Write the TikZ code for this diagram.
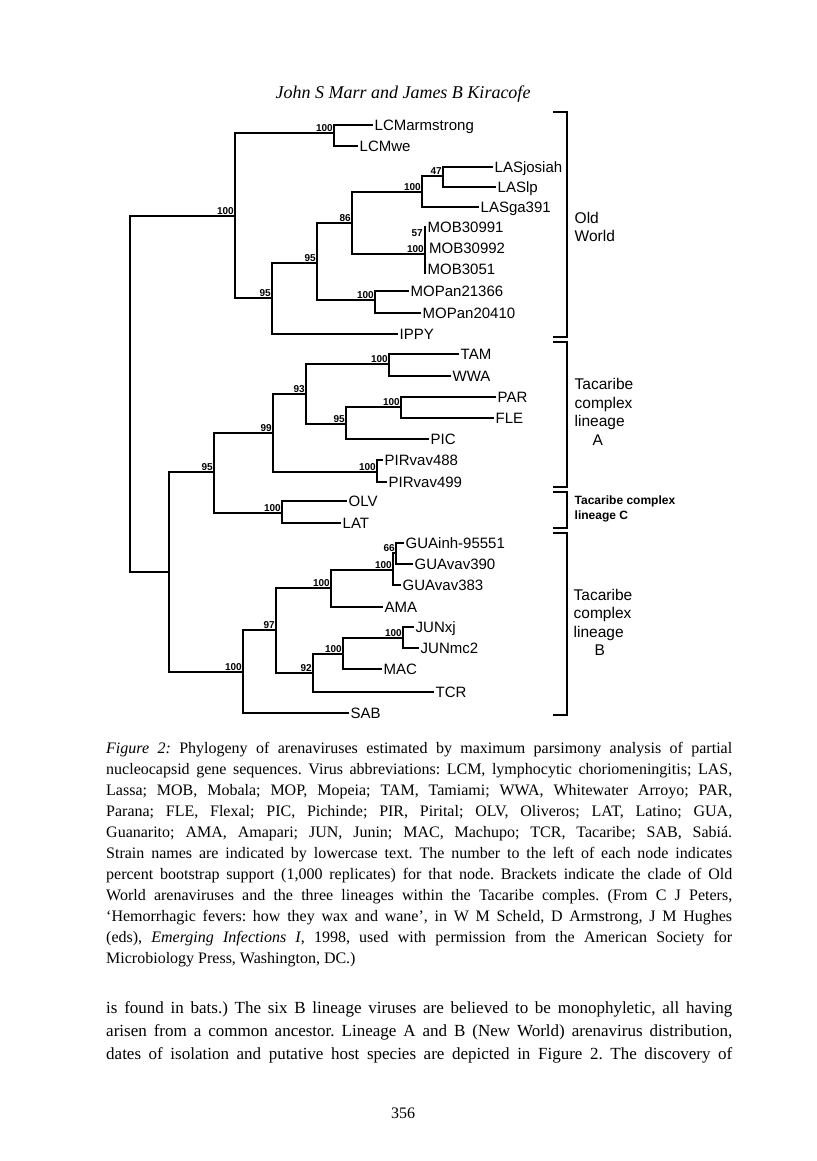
\documentclass[tikz,border=0pt]{standalone}
\usepackage{fontspec}
\setmainfont{Liberation Serif}
\setsansfont{Liberation Sans}
\frenchspacing
\begin{document}
\begin{tikzpicture}[x=1pt,y=-1pt,
  edgeline/.style={line width=1.8pt, line cap=rect, line join=miter},
  brk/.style={line width=2pt, line join=miter},
  leafnode/.style={anchor=west, inner xsep=2.5pt, inner ysep=0pt, font=\sffamily\fontsize{15}{15}\selectfont, text height=10.6pt, text depth=0pt},
  bsv/.style={anchor=south east, inner sep=0pt, xshift=-1pt, yshift=1pt, font=\sffamily\bfseries\fontsize{10}{10}\selectfont},
  grplabel/.style={anchor=north west, inner sep=0pt, align=left, font=\sffamily\fontsize{15.5}{18.5}\selectfont},
]
\fill[white] (0,0) rectangle (816,1161);
\useasboundingbox (0,0) rectangle (816,1161);

% header
\node[anchor=base, inner sep=0pt, font=\itshape\fontsize{18}{18}\selectfont] (header) at (403,99) {John S Marr and James B Kiracofe};

% internal nodes
\coordinate (root) at (130,394);
\coordinate (ow) at (235,216);
\coordinate (lcm) at (334,133);
\coordinate (n1) at (272,298);
\coordinate (n2) at (317,263);
\coordinate (n3) at (352,223);
\coordinate (las) at (422,192);
\coordinate (las2) at (443,176);
\coordinate (mob) at (425,254);
\coordinate (mobtop) at (425,226.5);
\coordinate (mobbot) at (425,273);
\coordinate (mop) at (375,300);
\coordinate (nw) at (169,572);
\coordinate (la) at (214,472);
\coordinate (a1) at (273,433);
\coordinate (a2) at (306,394);
\coordinate (tw) at (389,364);
\coordinate (pf) at (346,424);
\coordinate (pf2) at (401,407);
\coordinate (pir) at (377,472);
\coordinate (lc) at (282,513);
\coordinate (lb) at (243,672);
\coordinate (b1) at (276,630);
\coordinate (g) at (331,588);
\coordinate (g1) at (393,570);
\coordinate (g2) at (396,553);
\coordinate (j) at (313,673);
\coordinate (j1) at (343,654);
\coordinate (j2) at (403,638);

% leaves
\node[leafnode] (lcma) at (372,125) {LCMarmstrong};
\node[leafnode] (lcmwe) at (357,146) {LCMwe};
\node[leafnode] (lasj) at (492,167) {LASjosiah};
\node[leafnode] (laslp) at (495,187) {LASlp};
\node[leafnode] (lasga) at (478,207) {LASga391};
\node[leafnode] (mob1) at (425,227) {MOB30991};
\node[leafnode] (mob2) at (426.5,248) {MOB30992};
\node[leafnode] (mob3) at (425,269) {MOB3051};
\node[leafnode] (mopa) at (408,291) {MOPan21366};
\node[leafnode] (mopb) at (420,313) {MOPan20410};
\node[leafnode] (ippy) at (397,334) {IPPY};
\node[leafnode] (tam) at (458,354) {TAM};
\node[leafnode] (wwa) at (450,376) {WWA};
\node[leafnode] (par) at (495,397) {PAR};
\node[leafnode] (fle) at (493,418) {FLE};
\node[leafnode] (pic) at (428,439) {PIC};
\node[leafnode] (pira) at (382,460) {PIRvav488};
\node[leafnode] (pirb) at (386,482) {PIRvav499};
\node[leafnode] (olv) at (346,501) {OLV};
\node[leafnode] (lat) at (340,523) {LAT};
\node[leafnode] (guaa) at (403,543) {GUAinh-95551};
\node[leafnode] (guab) at (412,564) {GUAvav390};
\node[leafnode] (guac) at (400,585) {GUAvav383};
\node[leafnode] (ama) at (382,607) {AMA};
\node[leafnode] (juna) at (413,627) {JUNxj};
\node[leafnode] (junb) at (418,648) {JUNmc2};
\node[leafnode] (mac) at (381,669) {MAC};
\node[leafnode] (tcr) at (433,692) {TCR};
\node[leafnode] (sab) at (348,713) {SAB};

% branches
\draw[edgeline] (root) |- (ow);
\draw[edgeline] (root) |- (nw);
\draw[edgeline] (ow) |- (lcm);
\draw[edgeline] (ow) |- (n1);
\draw[edgeline] (lcm) |- (lcma.west);
\draw[edgeline] (lcm) |- (lcmwe.west);
\draw[edgeline] (n1) |- (n2);
\draw[edgeline] (n1) |- (ippy.west);
\draw[edgeline] (n2) |- (n3);
\draw[edgeline] (n2) |- (mop);
\draw[edgeline] (n3) |- (las);
\draw[edgeline] (n3) |- (mob);
\draw[edgeline] (las) |- (las2);
\draw[edgeline] (las) |- (lasga.west);
\draw[edgeline] (las2) |- (lasj.west);
\draw[edgeline] (las2) |- (laslp.west);
\draw[edgeline] (mobtop) -- (mobbot);
\draw[edgeline] (mop) |- (mopa.west);
\draw[edgeline] (mop) |- (mopb.west);
\draw[edgeline] (nw) |- (la);
\draw[edgeline] (nw) |- (lb);
\draw[edgeline] (la) |- (a1);
\draw[edgeline] (la) |- (lc);
\draw[edgeline] (a1) |- (a2);
\draw[edgeline] (a1) |- (pir);
\draw[edgeline] (a2) |- (tw);
\draw[edgeline] (a2) |- (pf);
\draw[edgeline] (tw) |- (tam.west);
\draw[edgeline] (tw) |- (wwa.west);
\draw[edgeline] (pf) |- (pf2);
\draw[edgeline] (pf) |- (pic.west);
\draw[edgeline] (pf2) |- (par.west);
\draw[edgeline] (pf2) |- (fle.west);
\draw[edgeline] (pir) |- (pira.west);
\draw[edgeline] (pir) |- (pirb.west);
\draw[edgeline] (lc) |- (olv.west);
\draw[edgeline] (lc) |- (lat.west);
\draw[edgeline] (lb) |- (b1);
\draw[edgeline] (lb) |- (sab.west);
\draw[edgeline] (b1) |- (g);
\draw[edgeline] (b1) |- (j);
\draw[edgeline] (g) |- (g1);
\draw[edgeline] (g) |- (ama.west);
\draw[edgeline] (g1) |- (g2);
\draw[edgeline] (g1) |- (guac.west);
\draw[edgeline] (g2) |- (guaa.west);
\draw[edgeline] (g2) |- (guab.west);
\draw[edgeline] (j) |- (j1);
\draw[edgeline] (j) |- (tcr.west);
\draw[edgeline] (j1) |- (j2);
\draw[edgeline] (j1) |- (mac.west);
\draw[edgeline] (j2) |- (juna.west);
\draw[edgeline] (j2) |- (junb.west);

% bootstrap values
\node[bsv] (bow) at (ow) {100};
\node[bsv] (blcm) at (lcm) {100};
\node[bsv] (bn1) at (n1) {95};
\node[bsv] (bn2) at (n2) {95};
\node[bsv] (bn3) at (n3) {86};
\node[bsv] (blas) at (las) {100};
\node[bsv] (blas2) at (las2) {47};
\node[bsv] (bmob) at (mob) {100};
\node[bsv] (bmob57) at (424,238) {57};
\node[bsv] (bmop) at (mop) {100};
\node[bsv] (bla) at (la) {95};
\node[bsv] (ba1) at (a1) {99};
\node[bsv] (ba2) at (a2) {93};
\node[bsv] (btw) at (tw) {100};
\node[bsv] (bpf) at (pf) {95};
\node[bsv] (bpf2) at (pf2) {100};
\node[bsv] (bpir) at (pir) {100};
\node[bsv] (blc) at (lc) {100};
\node[bsv] (blb) at (lb) {100};
\node[bsv] (bb1) at (b1) {97};
\node[bsv] (bg) at (g) {100};
\node[bsv] (bg1) at (g1) {100};
\node[bsv] (bg2) at (g2) {66};
\node[bsv] (bj) at (j) {92};
\node[bsv] (bj1) at (j1) {100};
\node[bsv] (bj2) at (j2) {100};

% brackets
\draw[brk] (553,111.7) -- (567,111.7) -- (567,337) -- (553,337);
\draw[brk] (553,342) -- (567,342) -- (567,486.5) -- (553,486.5);
\draw[brk] (553,492) -- (567,492) -- (567,528) -- (553,528);
\draw[brk] (553,532.5) -- (567,532.5) -- (567,715) -- (553,715);

\node[grplabel] (gow) at (574.5,212) {Old\\World};
\node[grplabel] (ga) at (574.5,378.5) {Tacaribe\\complex\\lineage\\\hspace*{18pt}A};
\node[grplabel, font=\sffamily\bfseries\fontsize{12}{15}\selectfont] (gc) at (574.5,496) {Tacaribe complex\\lineage C};
\node[grplabel] (gb) at (573.5,589) {Tacaribe\\complex\\lineage\\\hspace*{21pt}B};

% caption
\node[anchor=north west, inner sep=0pt, text width=626pt, align=justify, font=\fontsize{16}{21}\selectfont] (caption) at (106,742) {\textit{Figure 2:} Phylogeny of arenaviruses estimated by maximum parsimony analysis of partial\linebreak
nucleocapsid gene sequences. Virus abbreviations: LCM, lymphocytic choriomeningitis; LAS,\linebreak
Lassa; MOB, Mobala; MOP, Mopeia; TAM, Tamiami; WWA, Whitewater Arroyo; PAR,\linebreak
Parana; FLE, Flexal; PIC, Pichinde; PIR, Pirital; OLV, Oliveros; LAT, Latino; GUA,\linebreak
Guanarito; AMA, Amapari; JUN, Junin; MAC, Machupo; TCR, Tacaribe; SAB, Sabiá.\linebreak
Strain names are indicated by lowercase text. The number to the left of each node indicates\linebreak
percent bootstrap support (1,000 replicates) for that node. Brackets indicate the clade of Old\linebreak
World arenaviruses and the three lineages within the Tacaribe comples. (From C J Peters,\linebreak
‘Hemorrhagic fevers: how they wax and wane’, in W M Scheld, D Armstrong, J M Hughes\linebreak
(eds), \textit{Emerging Infections I}, 1998, used with permission from the American Society for\linebreak
Microbiology Press, Washington, DC.)};

% body text
\node[anchor=north west, inner sep=0pt, text width=626pt, align=justify, font=\fontsize{17}{23}\selectfont] (body) at (106,1001) {is found in bats.) The six B lineage viruses are believed to be monophyletic, all having\linebreak
arisen from a common ancestor. Lineage A and B (New World) arenavirus distribution,\linebreak
dates of isolation and putative host species are depicted in Figure 2. The discovery of\linebreak};

\node[anchor=base, inner sep=0pt, font=\fontsize{16}{16}\selectfont] (pnum) at (403,1118) {356};
\end{tikzpicture}
\end{document}
